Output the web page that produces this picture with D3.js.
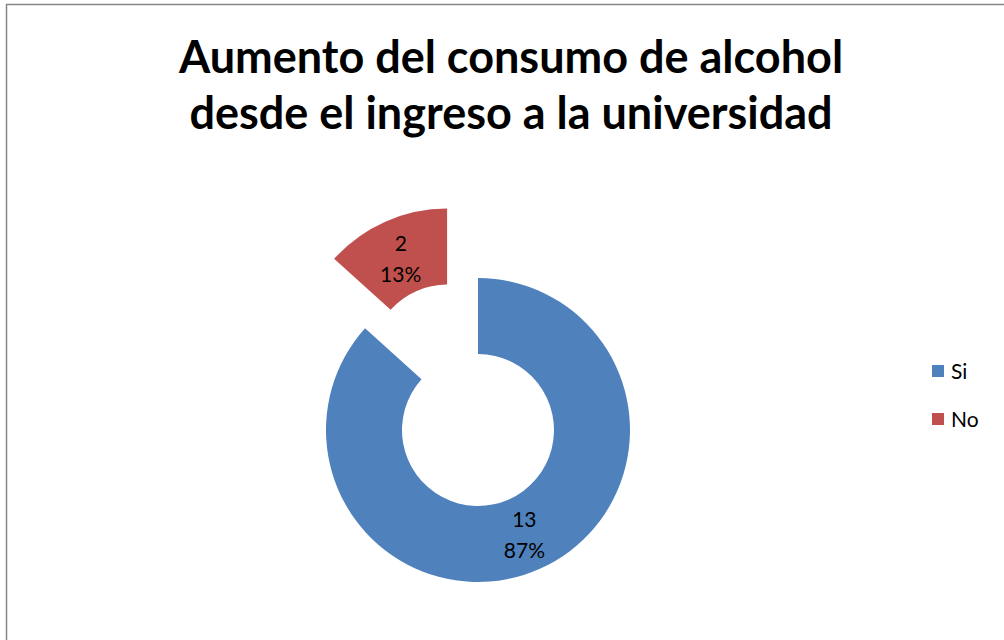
<!DOCTYPE html>
<html>
<head>
<meta charset="utf-8">
<script src="https://cdn.jsdelivr.net/npm/d3@7/dist/d3.min.js"></script>
<style>
  html, body { margin: 0; padding: 0; background: #fff; }
  svg { display: block; }
</style>
</head>
<body>
<svg id="chart" width="1004" height="640"></svg>
<script>
// Survey answers and counts
const categories = ["Si", "No"];
const values = [13, 2];
const colors = ["#4F81BD", "#C0504D"];
const titleLines = ["Aumento del consumo de alcohol", "desde el ingreso a la universidad"];

const svg = d3.select("#chart");
const W = 1004, H = 640;

// Outer frame
svg.append("rect")
  .attr("x", 6.5).attr("y", 4.5)
  .attr("width", W + 10).attr("height", H + 10)
  .attr("fill", "#fff")
  .attr("stroke", "#868686").attr("stroke-width", 1.5);

// Title
const title = svg.append("text")
  .attr("text-anchor", "middle")
  .attr("font-family", "Lato, 'Open Sans', sans-serif")
  .attr("font-weight", "bold")
  .attr("font-size", 45)
  .attr("fill", "#000");
titleLines.forEach((t, i) => {
  title.append("tspan").attr("x", 511).attr("y", 73 + i * 56).text(t);
});

// Donut
const cx = 478, cy = 430;
const outerR = 152, innerR = 76;
const explode = 76;
const total = d3.sum(values);

const pie = d3.pie().sort(null).value(d => d)(values);
const arc = d3.arc().innerRadius(innerR).outerRadius(outerR);

const g = svg.append("g").attr("transform", `translate(${cx},${cy})`);

const slices = g.selectAll("g.slice")
  .data(pie)
  .join("g")
  .attr("class", "slice")
  .attr("transform", (d, i) => {
    if (i !== 1) return null;
    const mid = (d.startAngle + d.endAngle) / 2;
    return `translate(${Math.sin(mid) * explode},${-Math.cos(mid) * explode})`;
  });

slices.append("path")
  .attr("d", arc)
  .attr("fill", (d, i) => colors[i]);

const pctFmt = v => Math.round(v / total * 100) + "%";

slices.append("text")
  .attr("text-anchor", "middle")
  .attr("font-family", "Lato, 'Open Sans', sans-serif")
  .attr("font-size", 21)
  .attr("fill", "#000")
  .each(function(d, i) {
    const [x, y] = arc.centroid(d);
    const dy = i === 1 ? 2 : 0;
    const t = d3.select(this);
    t.append("tspan").attr("x", x).attr("y", y - 7 + dy).text(d.data);
    t.append("tspan").attr("x", x).attr("y", y + 24 + dy).text(pctFmt(d.data));
  });

// Legend
const legend = svg.append("g").attr("transform", "translate(932,365)");
categories.forEach((c, i) => {
  const row = legend.append("g").attr("transform", `translate(0,${i * 48})`);
  row.append("rect").attr("width", 12).attr("height", 12).attr("fill", colors[i]);
  row.append("text")
    .attr("x", 19).attr("y", 14)
    .attr("font-family", "Lato, 'Open Sans', sans-serif")
    .attr("font-size", 21)
    .attr("fill", "#000")
    .text(c);
});
</script>
</body>
</html>
